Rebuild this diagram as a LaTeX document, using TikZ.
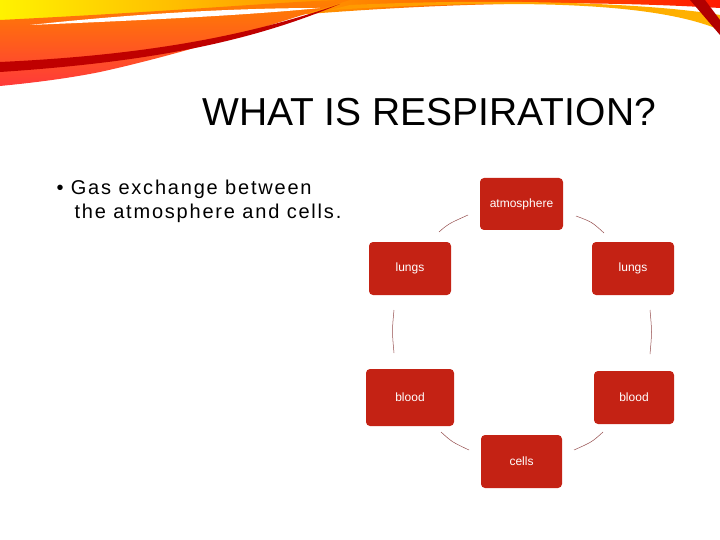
\documentclass[tikz,border=0pt]{standalone}
\usepackage{fontspec}
\setmainfont{Liberation Sans}
\begin{document}
\begin{tikzpicture}[x=1pt,y=-1pt,
  boxst/.style={draw=none,rounded corners=4pt,text=white,font=\fontsize{12}{14}\selectfont,inner sep=0pt},
  conn/.style={draw=red!40!black!70,line width=0.5pt}]
\useasboundingbox (0,0) rectangle (720,540);
\definecolor{boxred}{RGB}{196,34,20}
\tikzset{boxst/.append style={fill=boxred}}
% swoosh
\shade[left color=yellow!90!orange,right color=red!80!orange] (0,0) -- (720,0) -- (720,8) .. controls (500,-5) and (300,10) .. (0,45) -- cycle;
\shade[top color=orange,bottom color=red!70!pink] (0,20) .. controls (200,10) and (300,0) .. (350,0) .. controls (300,15) and (200,50) .. (100,72) .. controls (60,80) and (20,84) .. (0,86) -- cycle;
\shade[left color=orange!80!yellow,right color=orange!60!yellow] (330,10) .. controls (500,0) and (650,0) .. (720,30) -- (720,15) .. controls (650,3) and (500,-2) .. (350,5) -- cycle;
\fill[red!75!black] (0,72) .. controls (150,62) and (250,42) .. (340,4) .. controls (250,35) and (150,55) .. (0,62) -- cycle;
\fill[white] (30,25) .. controls (150,12) and (250,8) .. (320,8) .. controls (250,15) and (150,20) .. (30,25) -- cycle;
\fill[red!70!black] (690,0) -- (705,0) -- (720,20) -- (720,35) -- cycle;
% title
\node[font=\fontsize{39}{44}\selectfont] (title) at (429,112) {WHAT IS RESPIRATION?};
\node[font=\fontsize{20}{24}\selectfont\addfontfeatures{LetterSpace=9},anchor=north west,align=left] (bul) at (53,176) {\textbullet\ Gas exchange between\\\hspace{0.9em}the atmosphere and cells.};
% boxes
\node[boxst,minimum width=83pt,minimum height=52pt] (atm) at (521.5,204) {atmosphere};
\node[boxst,minimum width=82pt,minimum height=53pt] (lungL) at (410,268.5) {lungs};
\node[boxst,minimum width=82pt,minimum height=53pt] (lungR) at (633,268.5) {lungs};
\node[boxst,minimum width=88pt,minimum height=57pt] (bloodL) at (410,397.5) {blood};
\node[boxst,minimum width=80pt,minimum height=53pt] (bloodR) at (634,397.5) {blood};
\node[boxst,minimum width=81pt,minimum height=53pt] (cells) at (521.5,461.5) {cells};
% connectors
\coordinate (a1) at (439,232); \coordinate (a2) at (468,215);
\coordinate (b1) at (576,216); \coordinate (b2) at (604,233);
\coordinate (c1) at (394,310); \coordinate (c2) at (394,353);
\coordinate (d1) at (650,310); \coordinate (d2) at (650,354);
\coordinate (e1) at (441,432); \coordinate (e2) at (469,450);
\coordinate (f1) at (574,450); \coordinate (f2) at (603,432);
\draw[conn] (a1) .. controls (448,224) .. (a2);
\draw[conn] (b1) .. controls (592,222) .. (b2);
\draw[conn] (c1) .. controls (392,331) .. (c2);
\draw[conn] (d1) .. controls (652,332) .. (d2);
\draw[conn] (e1) .. controls (452,442) .. (e2);
\draw[conn] (f1) .. controls (592,442) .. (f2);
\end{tikzpicture}
\end{document}
